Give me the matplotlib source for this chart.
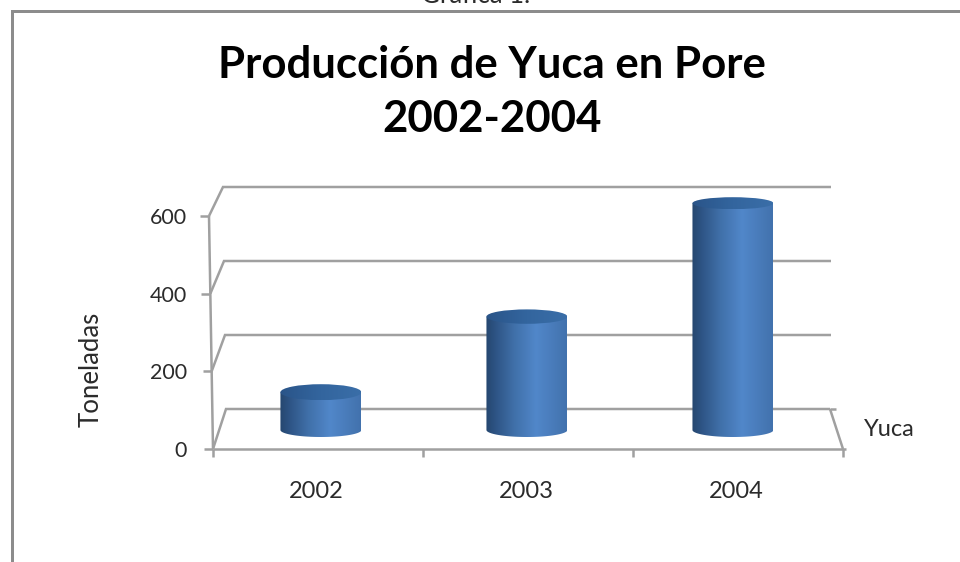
import numpy as np
import matplotlib
matplotlib.use("Agg")
import matplotlib.pyplot as plt
from matplotlib.colors import LinearSegmentedColormap
from matplotlib.lines import Line2D
from matplotlib.patches import Ellipse, Polygon

# --- data ---
categories = ["2002", "2003", "2004"]
values = [100, 300, 600]
y_ticks = [0, 200, 400, 600]
title = "Producción de Yuca en Pore\n2002-2004"
y_label = "Toneladas"
series_label = "Yuca"
top_text = "Gráfica 1."

W, H = 960, 562
plt.rcParams["font.family"] = ["Lato", "DejaVu Sans"]
GRAY = "#a0a0a0"
TEXT = "#2b2b2b"

fig = plt.figure(figsize=(W / 100, H / 100), dpi=100, facecolor="white")

# Front plane of the pseudo-3D plot: x 0..3 categories, y 0..600
L, R, B, T = 213, 843, 449, 216
ax = fig.add_axes([L / W, 1 - B / H, (R - L) / W, (B - T) / H])
ax.set_xlim(0, len(categories))
ax.set_ylim(0, 600)
ax.patch.set_alpha(0)
for s in ax.spines.values():
    s.set_visible(False)

ux = (R - L) / len(categories)          # px per category
uy = (B - T) / 600                      # px per value unit


def px_x(p):
    return p / ux


def px_y(p):
    return p / uy


LW = 2.5 * 72 / 100


def back_y(v):
    # back wall is shifted up, shift shrinking with height (perspective)
    return v + px_y(40 - 11 * v / 600)


def front_x(v):
    # left edge leans slightly to the left going up
    return -px_x(4 * v / 600)


def seg(xs, ys, **kw):
    ax.add_line(Line2D(xs, ys, color=GRAY, lw=LW, clip_on=False,
                       solid_capstyle="butt", solid_joinstyle="miter", **kw))


# back wall grid lines and their link to the left edge
for v in y_ticks:
    fx = front_x(v)
    bx = px_x(13 - 3 * v / 600)
    seg([fx, bx, px_x(831 - L - (0 if v else 1))], [v, back_y(v), back_y(v)])
    seg([fx, fx - px_x(9)], [v, v])          # left tick

# left edge, floor front edge, floor right edge
seg([front_x(0), front_x(600)], [0, 600])
seg([0, 3 + px_x(3)], [0, 0])
seg([px_x(830 - L), 3], [back_y(0), 0])
seg([px_x(830 - L), px_x(836 - L)], [back_y(0), back_y(0)])
for i in range(len(categories) + 1):
    seg([i, i], [0, -px_y(8)])

# Cylinders
side = LinearSegmentedColormap.from_list(
    "side",
    [(0.0, "#25476f"), (0.12, "#2e5485"), (0.35, "#4070a9"), (0.62, "#5187ca"),
     (0.8, "#4a7dbc"), (1.0, "#4272ad")],
)
lid = LinearSegmentedColormap.from_list(
    "lid", [(0.0, "#2a5488"), (0.5, "#33659e"), (1.0, "#3a6ea8")]
)
bar_w = px_x(81)
base = px_y(449 - 430)
scale = 0.378 / uy
grad = np.linspace(0, 1, 256)[None, :]

for i, v in enumerate(values):
    cx = 0.514 + 0.981 * i
    y0 = base
    y1 = base + scale * v
    hb = px_y(7)
    ht = px_y(8.4 - 0.004 * v)
    t = np.linspace(np.pi, 2 * np.pi, 60)
    xs = cx + bar_w / 2 * np.cos(t)
    ys = y0 + hb * np.sin(t)
    outline = np.column_stack([
        np.r_[xs, cx + bar_w / 2, cx - bar_w / 2],
        np.r_[ys, y1, y1],
    ])
    clip = Polygon(outline, closed=True, transform=ax.transData, fc="none", ec="none",
                   clip_on=False)
    ax.add_patch(clip)
    im = ax.imshow(grad, cmap=side, aspect="auto", zorder=3,
                   extent=[cx - bar_w / 2, cx + bar_w / 2, y0 - hb, y1])
    im.set_clip_path(clip)
    im.set_clip_box(fig.bbox)
    el = Ellipse((cx, y1), bar_w, 2 * ht, transform=ax.transData, fc="none", ec="none",
                 clip_on=False)
    ax.add_patch(el)
    im2 = ax.imshow(grad, cmap=lid, aspect="auto", zorder=4,
                    extent=[cx - bar_w / 2, cx + bar_w / 2, y1 - ht, y1 + ht])
    im2.set_clip_path(el)
    im2.set_clip_box(fig.bbox)

ax.set_xlim(0, len(categories))
ax.set_ylim(0, 600)

# Axis labels (real ticks)
ax.set_yticks(y_ticks)
ax.set_yticklabels([str(v) for v in y_ticks], fontsize=15.5, color=TEXT)
ax.tick_params(axis="y", length=0, pad=26 * 72 / 100)
ax.set_xticks(np.arange(len(categories)) + 0.5 - 0.01)
ax.set_xticklabels(categories, fontsize=17, color=TEXT)
ax.tick_params(axis="x", length=0, pad=32 * 72 / 100)

# Texts
fig.text(91 / W, 1 - 369 / H, y_label, rotation=90, ha="center", va="center",
         fontsize=18.5, color=TEXT)
fig.text(889 / W, 1 - 429 / H, series_label, ha="center", va="center",
         fontsize=17, color=TEXT)
fig.text(492 / W, 1 - 92 / H, title, ha="center", va="center", fontsize=31.5,
         fontweight="bold", color="black", linespacing=1.42, multialignment="center")
fig.text(476 / W, 1 - 3 / H, top_text, ha="center", va="baseline",
         fontsize=18.5, color=TEXT)

# Outer frame (chart border, open on the right and bottom)
fig.add_artist(Line2D([11.5 / W, 11.5 / W, 1], [0, 1 - 10.5 / H, 1 - 10.5 / H],
                      transform=fig.transFigure, color="#8c8c8c", lw=3 * 72 / 100,
                      solid_joinstyle="miter"))

fig.savefig("out.png", dpi=100)
